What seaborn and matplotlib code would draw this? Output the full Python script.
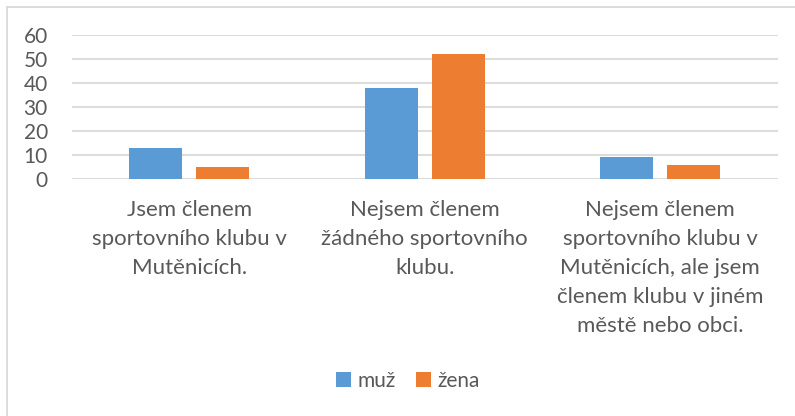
import pandas as pd
import numpy as np
import matplotlib.pyplot as plt
import matplotlib.lines as mlines
import seaborn as sb

# data
categories = [
    "Jsem členem\nsportovního klubu v\nMutěnicích.",
    "Nejsem členem\nžádného sportovního\nklubu.",
    "Nejsem členem\nsportovního klubu v\nMutěnicích, ale jsem\nčlenem klubu v jiném\nměstě nebo obci.",
]
muz = [13, 38, 9]
zena = [5, 52, 6]
series = ["muž", "žena"]

colors = ["#5B9BD5", "#ED7D31"]
text_color = "#595959"

df = pd.DataFrame({
    "kategorie": categories * 2,
    "pohlavi": [series[0]] * 3 + [series[1]] * 3,
    "pocet": muz + zena,
})

sb.set_style("white")
plt.rcParams["font.family"] = ["Lato", "DejaVu Sans"]

fig = plt.figure(figsize=(7.95, 4.16), dpi=100)
ax = fig.add_axes([71.5 / 795, 1 - 179 / 416, (778 - 71.5) / 795, 144 / 416])

sb.barplot(data=df, x="kategorie", y="pocet", hue="pohlavi",
           palette=colors, width=0.57, gap=0.21, ax=ax,
           saturation=1, legend=True, edgecolor="none")

ax.set_xlim(-0.5, 2.5)
ax.set_ylim(0, 60)
ax.set_yticks(np.arange(0, 61, 10))
ax.yaxis.grid(True, color="#D9D9D9", linewidth=1.3)
ax.set_axisbelow(True)
for s in ax.spines.values():
    s.set_visible(False)
ax.set_xlabel("")
ax.set_ylabel("")
ax.tick_params(axis="y", labelsize=15, colors=text_color, length=0, pad=17)
ax.tick_params(axis="x", labelsize=16, colors=text_color, length=0, pad=15)
for lbl in ax.get_yticklabels():
    lbl.set_horizontalalignment("right")
for lbl in ax.get_xticklabels():
    lbl.set_linespacing(1.56)
    lbl.set_verticalalignment("top")

# legend below
handles, labels = ax.get_legend_handles_labels()
ax.legend_.remove()
fig.legend(handles, labels, loc="center", bbox_to_anchor=(408 / 795, 1 - 381 / 416),
           ncol=2, frameon=False, fontsize=15, labelcolor=text_color,
           handlelength=0.7, handleheight=0.7, handletextpad=0.3,
           columnspacing=1.0)

# chart border (Excel style)
fig.add_artist(mlines.Line2D([6.5 / 795, 6.5 / 795], [0, 1 - 6.5 / 416],
                             color="#D9D9D9", linewidth=1.3))
fig.add_artist(mlines.Line2D([6.5 / 795, 1], [1 - 6.5 / 416, 1 - 6.5 / 416],
                             color="#D9D9D9", linewidth=1.3))

plt.savefig("out.png", dpi=100)
